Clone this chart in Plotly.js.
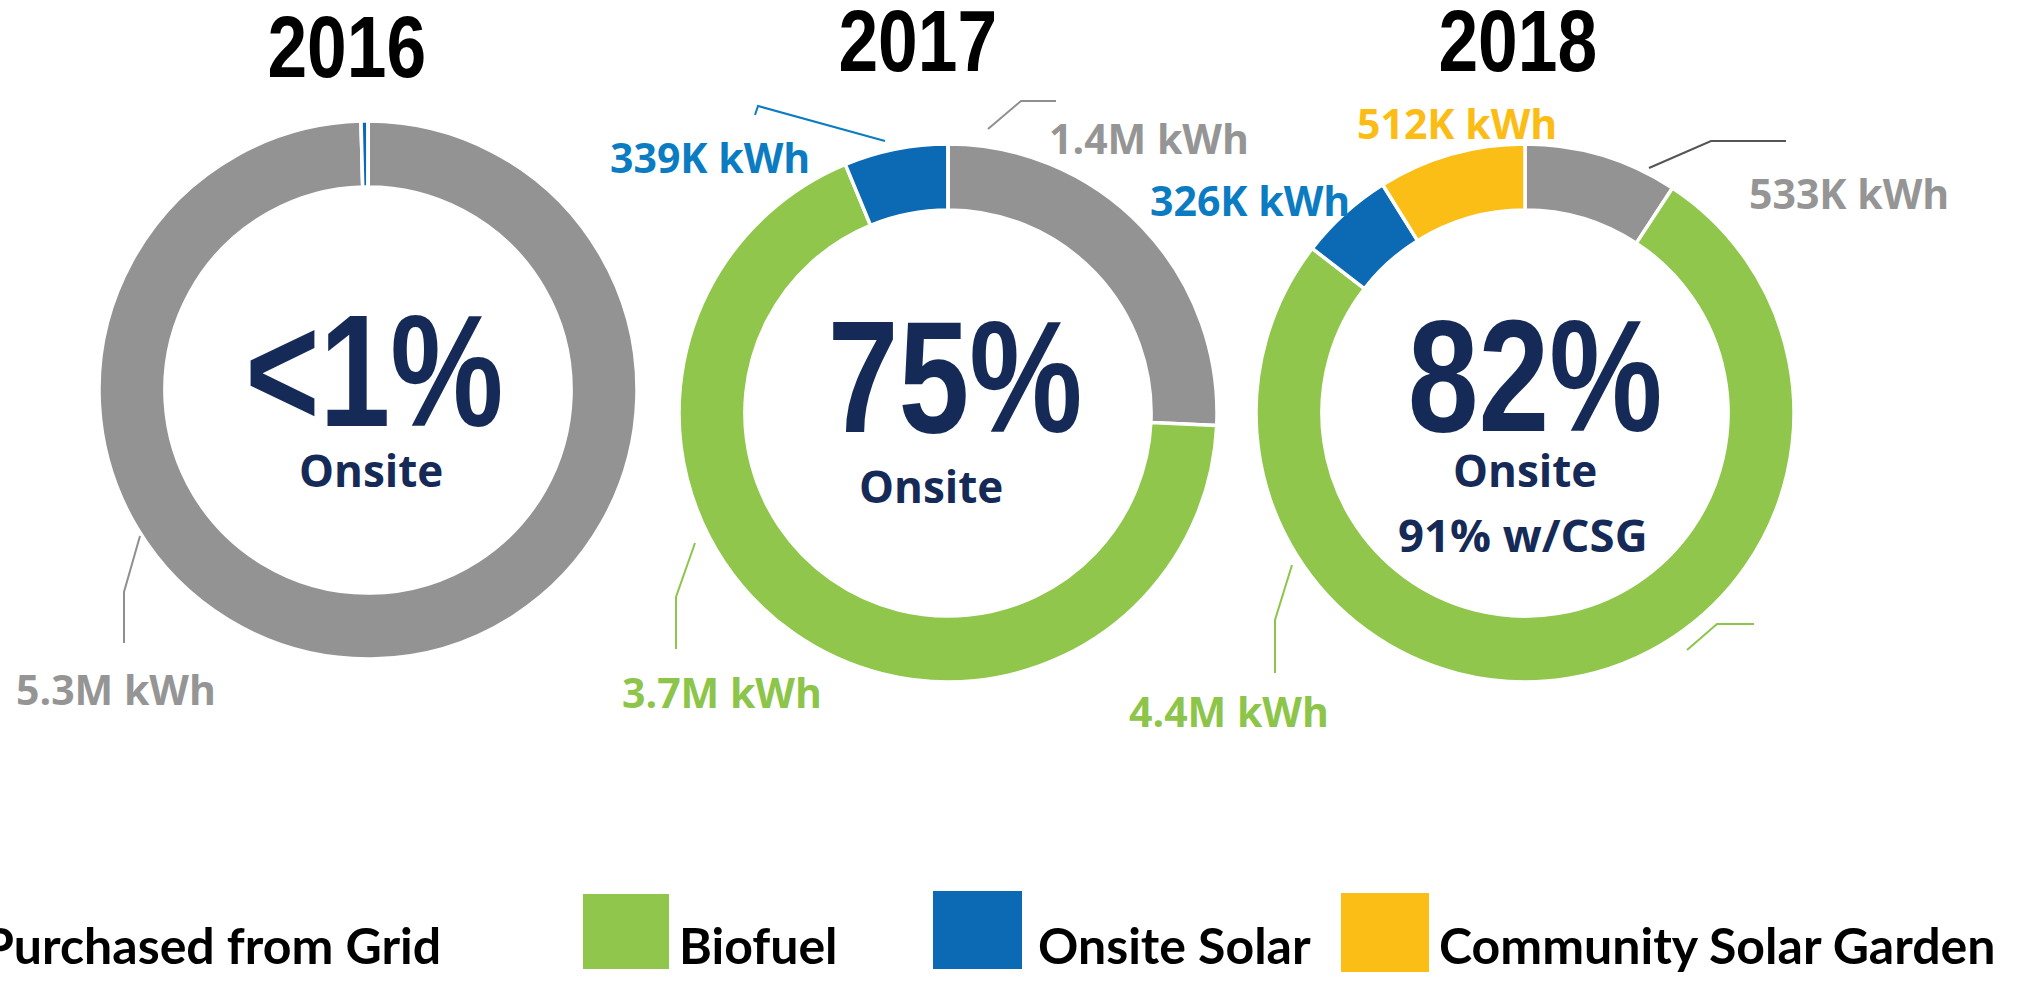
<!DOCTYPE html>
<html>
<head>
<meta charset="utf-8">
<script src="https://cdn.plot.ly/plotly-3.0.1.min.js"></script>
<style>
  html, body { margin: 0; padding: 0; background: #ffffff; }
  #chart { width: 2026px; height: 984px; }
</style>
</head>
<body>
<div id="chart"></div>
<script>
// ---------------- DATA ----------------
const categories = ['Purchased from Grid', 'Biofuel', 'Onsite Solar', 'Community Solar Garden'];
const years = ['2016', '2017', '2018'];
// energy in million kWh, in category order
const values2016 = [5.3, 0, 0.022, 0];
const values2017 = [1.4, 3.7, 0.339, 0];
const values2018 = [0.533, 4.4, 0.326, 0.512];
// slice value labels
const labels2016 = ['5.3M kWh', '', '', ''];
const labels2017 = ['1.4M kWh', '3.7M kWh', '339K kWh', ''];
const labels2018 = ['533K kWh', '4.4M kWh', '326K kWh', '512K kWh'];
// centre texts
const bigText = ['<1%', '75%', '82%'];
const subText = ['Onsite', 'Onsite', 'Onsite'];
const extraText = ['', '', '91% w/CSG'];

// ---------------- STYLE ----------------
const W = 2026, H = 984;
const colors = ['#939393', '#8fc64b', '#0c69b4', '#fbbe16'];
const labelColors = ['#959595', '#8dc54a', '#0b7cc2', '#fbbd15'];
const lineColors = ['#8f8f8f', '#8dc54a', '#0b7cc2', '#fbbd15'];
const navy = '#152a57';
const arialLike = '"Liberation Sans", Arial, sans-serif';
const sans = '"Open Sans", "Noto Sans", sans-serif';
const legendFont = 'Lato, "Open Sans", sans-serif';

const px = x => x / W;
const py = y => 1 - y / H;

// donut geometry (pixels)
const centers = [[368, 390], [948, 413], [1525, 413]];
const R = 269;

const allValues = [values2016, values2017, values2018];
const allLabels = [labels2016, labels2017, labels2018];

const traces = allValues.map((vals, i) => {
  const [cx, cy] = centers[i];
  return {
    type: 'pie',
    labels: categories,
    values: vals,
    sort: false,
    direction: 'clockwise',
    rotation: 0,
    hole: 0.755,
    textinfo: 'none',
    hoverinfo: 'label+value',
    marker: { colors: colors, line: { color: '#ffffff', width: 3.5 } },
    domain: { x: [px(cx - R), px(cx + R)], y: [py(cy + R), py(cy - R)] },
    showlegend: false
  };
});

const annotations = [];
const shapes = [];
const condensed = []; // [annotation index, horizontal scale]

function addAnn(a, squeeze) {
  annotations.push(Object.assign({ xref: 'paper', yref: 'paper', showarrow: false,
    xanchor: 'center', yanchor: 'middle' }, a));
  if (squeeze) condensed.push([annotations.length - 1, squeeze]);
}

// year titles
const titlePos = [[347, 46], [918, 41], [1518, 41]];
years.forEach((y, i) => {
  addAnn({ text: y, x: px(titlePos[i][0]), y: py(titlePos[i][1]),
    font: { family: arialLike, size: 87, color: '#000000', weight: 700 } }, 0.82);
});

// centre texts
const bigPos = [[374, 371], [955, 377], [1535, 376]];
const subPos = [[371, 470], [931, 486], [1525, 470]];
const extraPos = [[0, 0], [0, 0], [1523, 534]];
bigText.forEach((t, i) => {
  addAnn({ text: t, x: px(bigPos[i][0]), y: py(bigPos[i][1]),
    font: { family: arialLike, size: 159, color: navy, weight: 700 } }, 0.8);
  addAnn({ text: subText[i], x: px(subPos[i][0]), y: py(subPos[i][1]),
    font: { family: sans, size: 44, color: navy, weight: 700 } });
  if (extraText[i]) {
    addAnn({ text: extraText[i], x: px(extraPos[i][0]), y: py(extraPos[i][1]),
      font: { family: sans, size: 45.5, color: navy, weight: 700 } });
  }
});

// value labels: [year index, category index, x, y]
const labelPos = [
  [0, 0, 116, 689],
  [1, 2, 710, 157], [1, 0, 1149, 138], [1, 1, 722, 692],
  [2, 3, 1457, 123], [2, 2, 1250, 200], [2, 0, 1849, 193], [2, 1, 1229, 711]
];
labelPos.forEach(([yi, ci, x, y]) => {
  addAnn({ text: allLabels[yi][ci], x: px(x), y: py(y),
    font: { family: sans, size: 41, color: labelColors[ci], weight: 700 } });
});

// leader lines: [category index, colour override, points]
const leaders = [
  [0, null, [[140, 536], [124, 592], [124, 643]]],
  [2, null, [[885, 141], [758, 106], [755, 115]]],
  [0, null, [[988, 129], [1021, 101], [1056, 101]]],
  [1, null, [[695, 543], [676, 597], [676, 649]]],
  [0, '#555555', [[1649, 168], [1711, 141], [1786, 141]]],
  [1, null, [[1292, 565], [1275, 620], [1275, 673]]],
  [1, null, [[1687, 650], [1717, 624], [1754, 624]]]
];
leaders.forEach(([ci, col, pts]) => {
  const path = pts.map((p, k) => (k === 0 ? 'M' : 'L') + px(p[0]) + ',' + py(p[1])).join(' ');
  shapes.push({ type: 'path', xref: 'paper', yref: 'paper', path: path,
    line: { color: col || lineColors[ci], width: 2 } });
});

// legend
const legendSq = [null, [583, 894, 669, 969], [933, 891, 1022, 969], [1341, 893, 1429, 972]];
const legendTextX = [-19, 677, 1036, 1437];
categories.forEach((c, i) => {
  if (legendSq[i]) {
    const [x0, y0, x1, y1] = legendSq[i];
    shapes.push({ type: 'rect', xref: 'paper', yref: 'paper', x0: px(x0), x1: px(x1), y0: py(y1), y1: py(y0),
      fillcolor: colors[i], line: { width: 0 } });
  }
  addAnn({ text: c, x: px(legendTextX[i]), y: py(945), xanchor: 'left',
    font: { family: legendFont, size: 50, color: '#000000', weight: 700 } });
});

const layout = {
  width: W, height: H,
  margin: { l: 0, r: 0, t: 0, b: 0 },
  paper_bgcolor: '#ffffff',
  plot_bgcolor: '#ffffff',
  showlegend: false,
  annotations: annotations,
  shapes: shapes
};

Plotly.newPlot('chart', traces, layout, { displayModeBar: false, staticPlot: true }).then(() => {
  // narrow (condensed) look for the bold numeric texts
  condensed.forEach(([idx, s]) => {
    const g = document.querySelector('#chart .annotation[data-index="' + idx + '"]');
    if (!g) return;
    const t = g.querySelector('text');
    if (!t) return;
    const bb = t.getBBox();
    const cx = bb.x + bb.width / 2;
    const prev = t.getAttribute('transform') || '';
    t.setAttribute('transform', prev + ' translate(' + cx + ',0) scale(' + s + ',1) translate(' + (-cx) + ',0)');
  });
});
</script>
</body>
</html>
